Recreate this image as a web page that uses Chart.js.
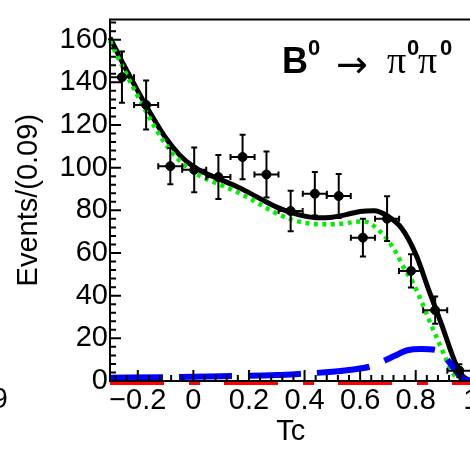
<!DOCTYPE html>
<html>
<head>
<meta charset="utf-8">
<script src="https://cdn.jsdelivr.net/npm/chart.js@4.4.1/dist/chart.umd.min.js"></script>
<style>
  html, body { margin: 0; padding: 0; background: #fff; overflow: hidden; }
  #wrap { width: 470px; height: 449px; overflow: hidden; }
  canvas { display: block; }
</style>
</head>
<body>
<div id="wrap"><canvas id="c" width="490" height="449"></canvas></div>
<script>
"use strict";

// data points (15 bins over -0.3 .. 1.0)
const binCenters = [-0.257, -0.170, -0.083, 0.003, 0.090, 0.177, 0.263, 0.350,
  0.437, 0.523, 0.610, 0.697, 0.783, 0.870, 0.957];
const binHalfWidth = 0.0433;
const counts = [142.4, 129.4, 100.7, 99.0, 95.6, 105.0, 96.8, 79.7,
  87.8, 86.7, 67.2, 76.1, 51.6, 33.2, 4.8];
const countErrors = [12.0, 11.5, 8.5, 10.5, 10.3, 10.4, 10.8, 9.5,
  10.2, 10.3, 8.8, 10.5, 7.8, 6.4, 3.0];

// total fit (black solid)
const totalX = [-0.3, -0.25, -0.2, -0.15, -0.1, -0.05, 0, 0.05, 0.1, 0.15, 0.2,
  0.25, 0.3, 0.35, 0.4, 0.45, 0.5, 0.55, 0.6, 0.65, 0.7, 0.75, 0.8, 0.85, 0.9,
  0.925, 0.95, 0.97, 1.0];
const totalY = [161, 148, 136, 124.5, 114, 106, 100.5, 97, 94.3, 91.5, 88.3,
  84.8, 81.5, 79, 77.3, 76.5, 76.8, 78, 79.5, 79.8, 77.2, 71.5, 59.5, 41.5, 24,
  14.5, 6.3, 2.2, 0];

// green dotted component
const greenX = [-0.3, -0.25, -0.2, -0.15, -0.1, -0.05, 0, 0.05, 0.1, 0.15, 0.2,
  0.25, 0.3, 0.35, 0.4, 0.45, 0.5, 0.55, 0.6, 0.63, 0.66, 0.7, 0.73, 0.76, 0.79,
  0.82, 0.85, 0.875, 0.9, 0.92, 0.94, 0.96, 1.0];
const greenY = [159.5, 146, 133.5, 121.5, 111, 103.3, 98, 94.5, 91.8, 89, 85.8,
  82, 78.5, 75.8, 74.2, 73.5, 73.5, 74, 74.8, 74.3, 71.5, 66, 60, 52.5, 46,
  37.5, 28, 20.5, 13, 7, 2.5, 0.3, 0];

// blue dashed component
const blueX = [-0.3, -0.1, 0.1, 0.3, 0.4, 0.5, 0.56, 0.64, 0.7, 0.74, 0.77,
  0.82, 0.87, 0.89, 0.91, 0.93, 0.95, 0.97, 1.0];
const blueY = [1.5, 1.8, 2.2, 2.8, 3.5, 4.3, 5.2, 6.9, 10.3, 12.8, 14.4,
  15.0, 14.6, 13, 10.6, 7.2, 3.8, 1.0, 0];

// red dash-dot component
const redX = [-0.3, 1.0];
const redY = [-0.8, -0.8];

const xTickValues = [-0.2, 0, 0.2, 0.4, 0.6, 0.8, 1.0];
const yTickValues = [0, 20, 40, 60, 80, 100, 120, 140, 160];

function toPoints(xs, ys) {
  return xs.map((x, i) => ({ x: x, y: ys[i] }));
}

const rootStyle = {
  id: "rootStyle",
  afterDatasetsDraw(chart) {
    const { ctx, chartArea: a } = chart;
    const xs = chart.scales.x;
    const ys = chart.scales.y;
    ctx.save();
    ctx.strokeStyle = "#000";
    ctx.lineWidth = 2;

    // error bars
    for (let i = 0; i < binCenters.length; i++) {
      const px = xs.getPixelForValue(binCenters[i]);
      const py = ys.getPixelForValue(counts[i]);
      const xl = Math.max(a.left, xs.getPixelForValue(binCenters[i] - binHalfWidth));
      const xr = xs.getPixelForValue(binCenters[i] + binHalfWidth);
      const yt = ys.getPixelForValue(counts[i] + countErrors[i]);
      const yb = ys.getPixelForValue(counts[i] - countErrors[i]);
      ctx.beginPath();
      ctx.moveTo(px, yt); ctx.lineTo(px, yb);
      ctx.moveTo(xl, py); ctx.lineTo(xr, py);
      ctx.moveTo(px - 3, yt); ctx.lineTo(px + 3, yt);
      ctx.moveTo(px - 3, yb); ctx.lineTo(px + 3, yb);
      ctx.moveTo(xl, py - 3); ctx.lineTo(xl, py + 3);
      ctx.moveTo(xr, py - 3); ctx.lineTo(xr, py + 3);
      ctx.stroke();
    }

    // frame
    ctx.beginPath();
    ctx.moveTo(a.right + 5, a.top); ctx.lineTo(a.left, a.top);
    ctx.lineTo(a.left, a.bottom); ctx.lineTo(a.right + 5, a.bottom);
    ctx.stroke();

    // tick marks, drawn inside like ROOT
    ctx.beginPath();
    for (let k = 0; k <= 42; k++) {
      const v = k * 4;
      const y = ys.getPixelForValue(v);
      const len = v % 20 === 0 ? 11 : 6;
      ctx.moveTo(a.left, y); ctx.lineTo(a.left + len, y);
    }
    for (let k = -7; k <= 25; k++) {
      const x = xs.getPixelForValue(k * 0.04);
      const len = k % 5 === 0 ? 11 : 6;
      ctx.moveTo(x, a.bottom); ctx.lineTo(x, a.bottom - len);
    }
    ctx.stroke();
    ctx.restore();
  },
  afterDraw(chart) {
    const ctx = chart.ctx;
    ctx.save();
    ctx.fillStyle = "#000";
    ctx.textBaseline = "alphabetic";
    ctx.textAlign = "left";
    ctx.font = "bold 36px 'Liberation Sans', Arial, sans-serif";
    ctx.fillText("B", 282, 73);
    ctx.font = "bold 22px 'Liberation Sans', Arial, sans-serif";
    ctx.fillText("0", 308, 55);
    ctx.font = "38px 'DejaVu Sans', sans-serif";
    ctx.fillText("\u2192", 336, 77);
    ctx.font = "38px 'Liberation Serif', serif";
    ctx.fillText("\u03c0", 387, 73);
    ctx.fillText("\u03c0", 418, 73);
    ctx.font = "bold 22px 'Liberation Sans', Arial, sans-serif";
    ctx.fillText("0", 407, 55);
    ctx.fillText("0", 440, 55);
    // cut-off label from the neighbouring pad
    ctx.font = "29px 'Liberation Sans', Arial, sans-serif";
    ctx.textAlign = "right";
    ctx.textBaseline = "middle";
    ctx.fillText("9", 8, 400);
    ctx.restore();
  }
};

const tickFont = { family: "'Liberation Sans', Arial, sans-serif", size: 29 };

new Chart(document.getElementById("c"), {
  type: "line",
  data: {
    datasets: [
      {
        label: "Data",
        type: "scatter",
        data: toPoints(binCenters, counts),
        backgroundColor: "#000",
        borderColor: "#000",
        pointRadius: 4.5,
        showLine: false,
        order: 0,
      },
      {
        label: "Red",
        data: toPoints(redX, redY),
        borderColor: "#ff0000",
        borderWidth: 4.5,
        borderDash: [54, 25, 11, 24],
        pointRadius: 0,
        clip: false,
        order: 1,
      },
      {
        label: "Blue",
        data: toPoints(blueX, blueY),
        borderColor: "#0000ff",
        borderWidth: 6,
        borderDash: [53, 16],
        pointRadius: 0,
        cubicInterpolationMode: "monotone",
        clip: false,
        order: 2,
      },
      {
        label: "Green",
        data: toPoints(greenX, greenY),
        borderColor: "rgb(0, 240, 0)",
        borderWidth: 4.5,
        borderDash: [4, 4.5],
        pointRadius: 0,
        cubicInterpolationMode: "monotone",
        clip: false,
        order: 3,
      },
      {
        label: "Total",
        data: toPoints(totalX, totalY),
        borderColor: "#000",
        borderWidth: 5,
        pointRadius: 0,
        cubicInterpolationMode: "monotone",
        clip: false,
        order: 4,
      },
    ],
  },
  options: {
    responsive: false,
    animation: false,
    events: [],
    layout: { padding: { left: 0, right: 18.7, top: 19, bottom: 0 } },
    plugins: { legend: { display: false }, tooltip: { enabled: false } },
    scales: {
      x: {
        type: "linear",
        min: -0.3,
        max: 1.0,
        grid: { display: false, drawTicks: false },
        border: { display: false },
        afterBuildTicks: (s) => { s.ticks = xTickValues.map((v) => ({ value: v })); },
        afterFit: (s) => { s.height = 68; },
        ticks: {
          color: "#000",
          font: tickFont,
          padding: 3,
          maxRotation: 0,
          autoSkip: false,
          callback: (v) => {
            const n = Number(v.toFixed(1));
            return n < 0 ? "\u2212" + Math.abs(n) : String(n);
          },
        },
        title: {
          display: true,
          text: "Tc",
          color: "#000",
          font: tickFont,
          padding: { top: 0, bottom: 0 },
        },
      },
      y: {
        min: 0,
        max: 169.5,
        grid: { display: false, drawTicks: false },
        border: { display: false },
        afterBuildTicks: (s) => { s.ticks = yTickValues.map((v) => ({ value: v })); },
        afterFit: (s) => { s.width = 110; },
        ticks: {
          color: "#000",
          font: tickFont,
          padding: 2,
          autoSkip: false,
        },
        title: {
          display: true,
          text: "Events/(0.09)",
          color: "#000",
          font: tickFont,
          padding: { top: 12, bottom: 0 },
        },
      },
    },
  },
  plugins: [rootStyle],
});
</script>
</body>
</html>
